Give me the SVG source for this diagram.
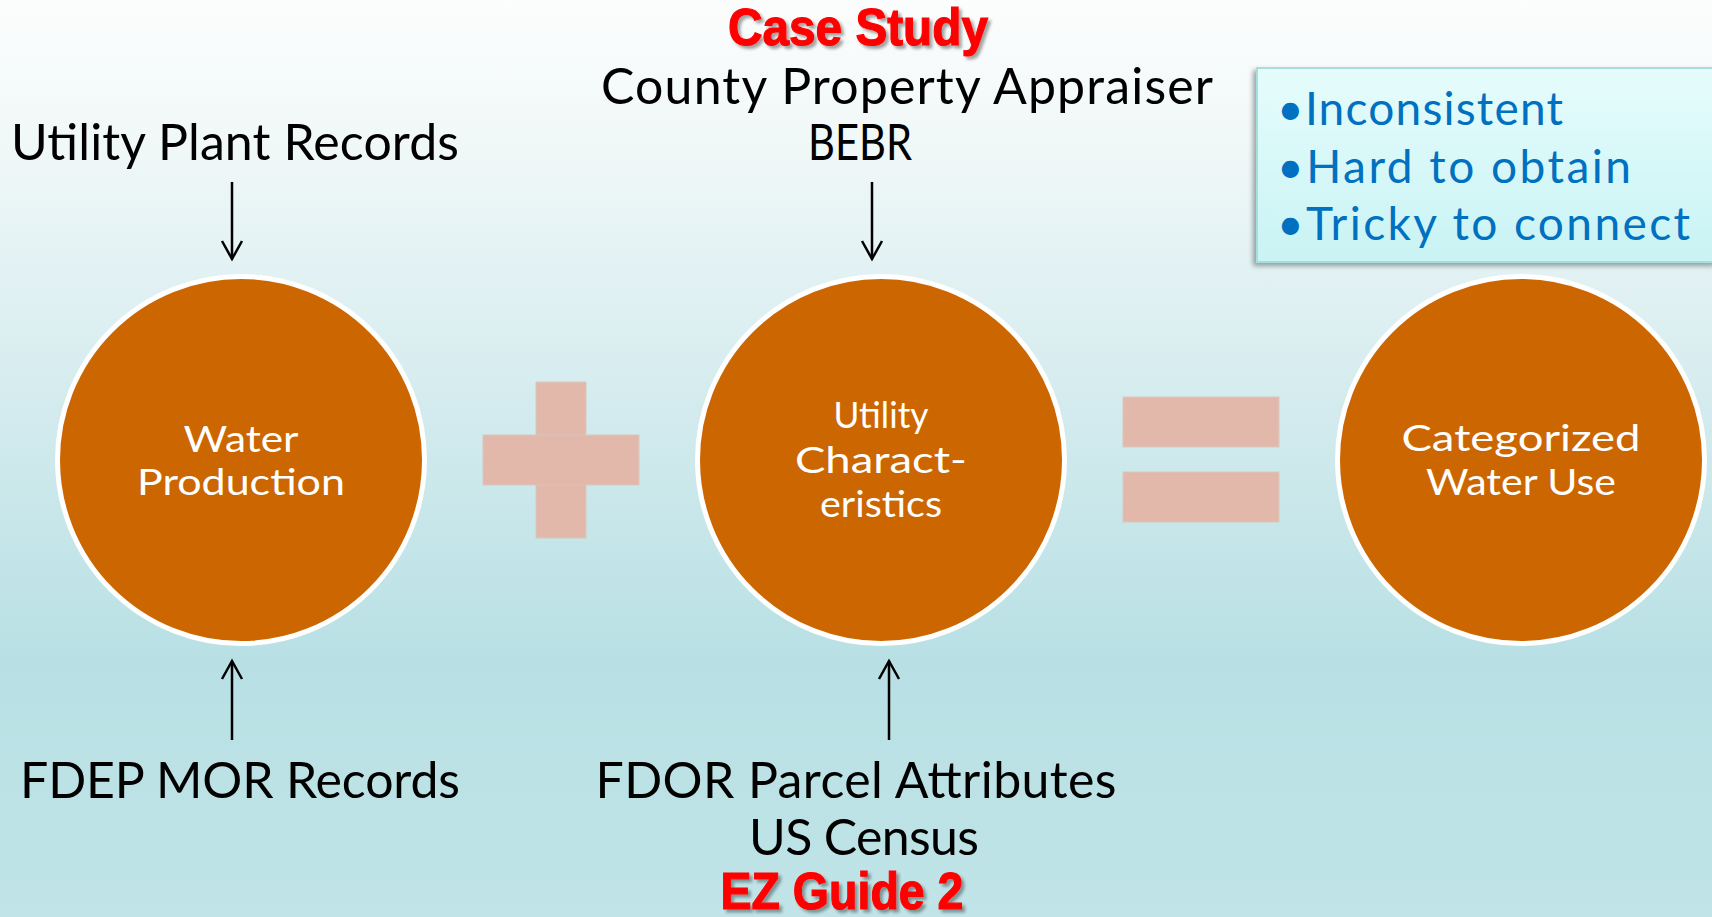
<svg xmlns="http://www.w3.org/2000/svg" width="1712" height="917" viewBox="0 0 1712 917">
  <defs>
    <linearGradient id="bg" x1="0" y1="0" x2="0" y2="1">
      <stop offset="0" stop-color="#fcfdfd"/>
      <stop offset="0.15" stop-color="#f1f8f8"/>
      <stop offset="0.45" stop-color="#d3ebee"/>
      <stop offset="0.72" stop-color="#b8e0e4"/>
      <stop offset="1" stop-color="#c0e4e7"/>
    </linearGradient>
    <linearGradient id="boxfill" x1="0" y1="0" x2="0" y2="1">
      <stop offset="0" stop-color="#e6fcfc"/>
      <stop offset="1" stop-color="#c9f3f4"/>
    </linearGradient>
    <filter id="shadow" x="-10%" y="-10%" width="120%" height="130%">
      <feDropShadow dx="3" dy="3" stdDeviation="1.5" flood-color="#000" flood-opacity="0.35"/>
    </filter>
    <filter id="boxshadow" x="-5%" y="-10%" width="110%" height="130%">
      <feDropShadow dx="-3" dy="3" stdDeviation="2.5" flood-color="#000" flood-opacity="0.35"/>
    </filter>
    <marker id="head" viewBox="0 0 24 24" refX="20" refY="12" markerWidth="24" markerHeight="24" markerUnits="userSpaceOnUse" orient="auto">
      <polyline points="2,2 20,12 2,22" fill="none" stroke="#000" stroke-width="2.5"/>
    </marker>
    <style>
      .lbl { font-family: Lato, "Open Sans", "Liberation Sans", sans-serif; font-size: 50px; fill: #000; text-anchor: middle; }
      .red { font-family: "Liberation Sans", Arial, sans-serif; font-weight: bold; font-size: 52px; fill: #ff0000; stroke: #ff0000; stroke-width: 1.2; text-anchor: middle; filter: url(#shadow); }
      .node circle { fill: #cc6600; stroke: #ffffff; stroke-width: 5; }
      .node text { font-family: Lato, "Open Sans", "Liberation Sans", sans-serif; font-size: 37px; fill: #ffffff; text-anchor: middle; }
      .op { fill: #e2b8ab; stroke: #d8c8c0; stroke-width: 1; }
      .note { font-family: Lato, "Open Sans", "Liberation Sans", sans-serif; font-size: 46px; fill: #0070c0; }
      .conn line { stroke: #000; stroke-width: 2.5; marker-end: url(#head); }
    </style>
  </defs>

  <rect x="0" y="0" width="1712" height="917" fill="url(#bg)"/>

  <!-- Labels -->
  <g id="labels">
    <text class="red" x="858" y="45" textLength="260" lengthAdjust="spacingAndGlyphs">Case Study</text>
    <text class="lbl" x="907" y="104" textLength="612">County Property Appraiser</text>
    <text class="lbl" x="860" y="160" textLength="104" lengthAdjust="spacingAndGlyphs">BEBR</text>
    <text class="lbl" x="235" y="160" textLength="448">Utility Plant Records</text>
    <text class="lbl" x="240" y="798" textLength="440">FDEP MOR Records</text>
    <text class="lbl" x="856" y="798" textLength="521">FDOR Parcel Attributes</text>
    <text class="lbl" x="864" y="855" textLength="230">US Census</text>
    <text class="red" x="842" y="909" textLength="243" lengthAdjust="spacingAndGlyphs">EZ Guide 2</text>
  </g>

  <!-- Note box -->
  <g id="note">
    <rect x="1257" y="68" width="460" height="194" fill="url(#boxfill)" stroke="#a6dede" stroke-width="2" filter="url(#boxshadow)"/>
    <text class="note" x="1277" y="125" textLength="286">•Inconsistent</text>
    <text class="note" x="1277" y="183" textLength="354">•Hard to obtain</text>
    <text class="note" x="1277" y="240" textLength="413">•Tricky to connect</text>
  </g>

  <!-- Nodes -->
  <g id="water-production" class="node">
    <circle cx="241" cy="460" r="183.5"/>
    <text x="241" y="452" textLength="115" lengthAdjust="spacingAndGlyphs">Water</text>
    <text x="241" y="495" textLength="208" lengthAdjust="spacingAndGlyphs">Production</text>
  </g>
  <g id="utility-characteristics" class="node">
    <circle cx="881" cy="460" r="183.5"/>
    <text x="881" y="428" textLength="95" lengthAdjust="spacingAndGlyphs">Utility</text>
    <text x="881" y="473" textLength="172" lengthAdjust="spacingAndGlyphs">Charact-</text>
    <text x="881" y="517" textLength="122" lengthAdjust="spacingAndGlyphs">eristics</text>
  </g>
  <g id="categorized-water-use" class="node">
    <circle cx="1521" cy="460" r="183.5"/>
    <text x="1521" y="451" textLength="239" lengthAdjust="spacingAndGlyphs">Categorized</text>
    <text x="1521" y="495" textLength="190" lengthAdjust="spacingAndGlyphs">Water Use</text>
  </g>

  <!-- Operators -->
  <g id="plus">
    <rect class="op" x="536" y="382" width="50" height="156"/>
    <rect class="op" x="483" y="435" width="156" height="50"/>
    <rect x="536.5" y="435.5" width="49" height="49" fill="#e2b8ab"/>
  </g>
  <g id="equals">
    <rect class="op" x="1123" y="397" width="156" height="50"/>
    <rect class="op" x="1123" y="472" width="156" height="50"/>
  </g>

  <!-- Connectors -->
  <g id="connectors" class="conn">
    <line x1="232" y1="182" x2="232" y2="259"/>
    <line x1="872" y1="182" x2="872" y2="259"/>
    <line x1="232" y1="740" x2="232" y2="661"/>
    <line x1="889" y1="740" x2="889" y2="661"/>
  </g>
</svg>
